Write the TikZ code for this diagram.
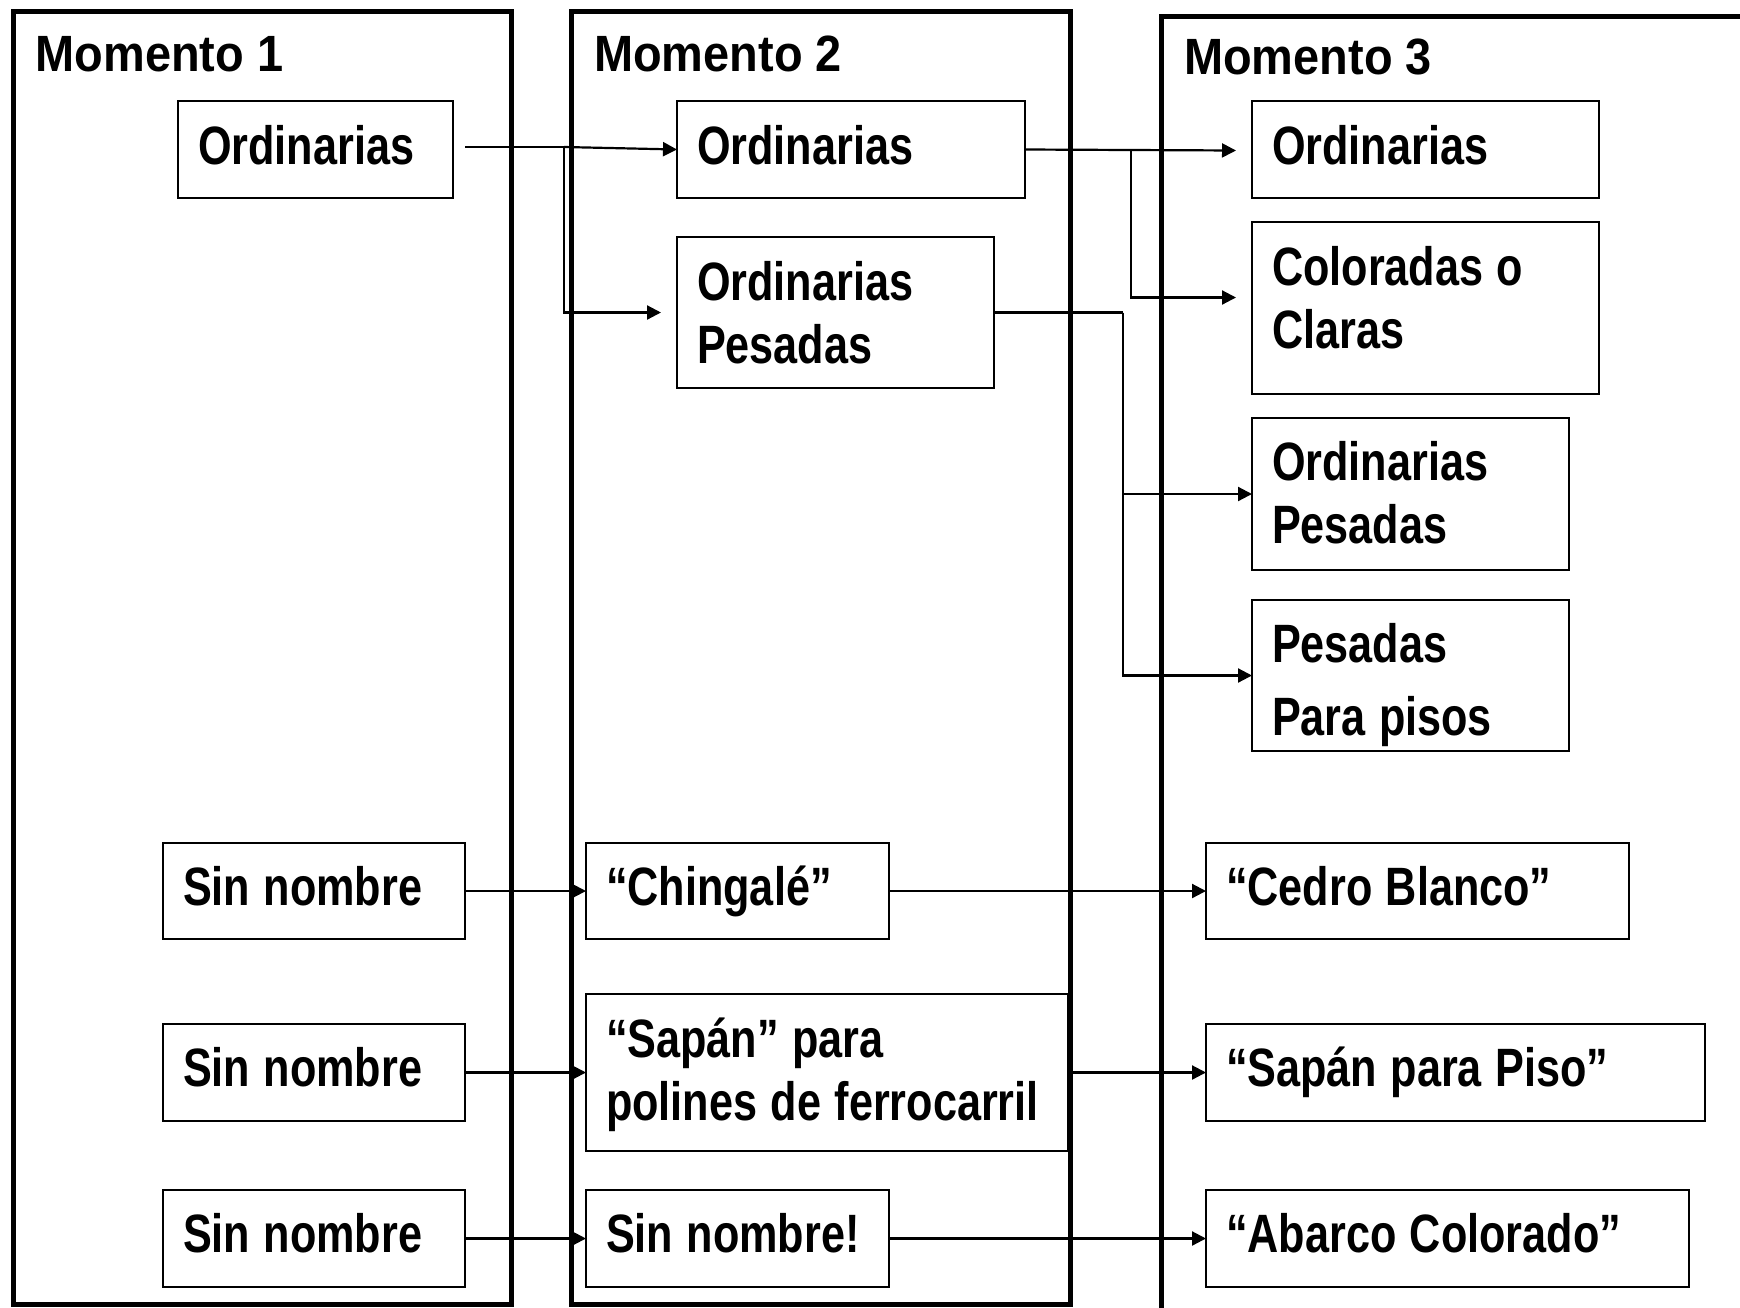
\documentclass[tikz,border=0pt]{standalone}
\usepackage{fontspec}
\setmainfont{Liberation Sans}
\newfontfamily\boxfont{Liberation Sans}[FakeStretch=0.80]
\newfontfamily\titlefont{Liberation Sans}[FakeStretch=0.92]
\usetikzlibrary{arrows.meta,calc}
\begin{document}
\begin{tikzpicture}[x=1pt,y=-1pt,
  panel/.style={draw=black, line width=5pt},
  bx/.style={draw=black, line width=2.2pt, anchor=north west, inner xsep=20pt, inner ysep=0pt, outer sep=0pt,
    align=left, font=\boxfont\bfseries\fontsize{54}{63.5}\selectfont,
    execute at begin node={\spaceskip=13.5pt\relax}},
  ttl/.style={anchor=base west, inner sep=0pt, font=\titlefont\bfseries\fontsize{51}{60}\selectfont},
  conn/.style={draw=black, line width=2.2pt},
  arr/.style={conn, -{Triangle[length=14pt,width=14pt]}}
]
\useasboundingbox (0,0) rectangle (1740,1307);
\clip (0,0) rectangle (1740,1307);

% panels
\draw[panel] (13,11) rectangle (511,1304);
\draw[panel] (571.5,11) rectangle (1070,1304);
\draw[panel] (1161,1320) -- (1161,16) -- (1760,16);

% titles
\node[ttl] (m1) at (35.5,71) {Momento 1};
\node[ttl] (m2) at (594,71) {Momento 2};
\node[ttl] (m3) at (1184,74.5) {Momento 3};

% column 1
\node[bx, text width=235pt, text height=63pt, text depth=34pt] (ord1) at (178,101) {Ordinarias};
\node[bx, text width=262pt, text height=62pt, text depth=34pt] (sin1) at (163,843) {Sin nombre};
\node[bx, text width=262pt, text height=62pt, text depth=35pt] (sin2) at (163,1024) {Sin nombre};
\node[bx, text width=262pt, text height=62pt, text depth=35pt] (sin3) at (163,1190) {Sin nombre};

% column 2
\node[bx, text width=308pt, text height=63pt, text depth=34pt] (ord2) at (677,101) {Ordinarias};
\node[bx, text width=277pt, text height=63pt, text depth=88pt] (ordp2) at (677,237) {Ordinarias\\Pesadas};
\node[bx, text width=263pt, text height=62pt, text depth=34pt] (ching) at (586,843) {“Chingalé”};
\node[bx, text width=442pt, text height=63pt, text depth=94pt] (sapan) at (586,994) {“Sapán” para\\polines de ferrocarril};
\node[bx, text width=263pt, text height=62pt, text depth=35pt] (sinnom) at (586,1190) {Sin nombre!};

% column 3
\node[bx, text width=307pt, text height=63pt, text depth=34pt] (ord3) at (1252,101) {Ordinarias};
\node[bx, text width=307pt, text height=63pt, text depth=109pt] (color) at (1252,222) {Coloradas o\\Claras};
\node[bx, text width=277pt, text height=62pt, text depth=90pt] (ordp3) at (1252,418) {Ordinarias\\Pesadas};
\node[bx, text width=277pt, text height=62pt, text depth=89pt] (pesp) at (1252,600) {Pesadas\\[10pt]Para pisos};
\node[bx, text width=383pt, text height=62pt, text depth=34pt] (cedro) at (1206,843) {“Cedro Blanco”};
\node[bx, text width=459pt, text height=62pt, text depth=35pt] (sappiso) at (1206,1024) {“Sapán para Piso”};
\node[bx, text width=443pt, text height=62pt, text depth=35pt] (abarco) at (1206,1190) {“Abarco Colorado”};

% connectors: Ordinarias (1) -> Ordinarias (2), Ordinarias Pesadas (2)
\coordinate (s1) at (465,147);
\coordinate (j1) at (564,147);
\coordinate (t2) at (661,312.5);
\draw[conn] (s1) -- (j1);
\draw[arr] (j1) -- (ord2.west);
\draw[arr] (j1) |- (t2);

% Ordinarias (2) -> Ordinarias (3), Coloradas o Claras
\coordinate (t3) at (1236,150.5);
\coordinate (j2) at (1131,149.5);
\coordinate (t4) at (1236,297.5);
\draw[arr] (ord2.east) -- (t3);
\draw[arr] (j2) |- (t4);

% Ordinarias Pesadas (2) -> Ordinarias Pesadas (3), Pesadas Para pisos
\coordinate (j3) at (1123,312.5);
\draw[conn] (ordp2.east) -- (j3);
\draw[arr] (j3) |- (ordp3.west);
\draw[arr] (j3) |- (pesp.west);

% lower rows
\draw[arr] (sin1.east) -- (ching.west);
\draw[arr] (ching.east) -- (cedro.west);
\draw[arr] (sin2.east) -- (sapan.west);
\draw[arr] (sapan.east) -- (sappiso.west);
\draw[arr] (sin3.east) -- (sinnom.west);
\draw[arr] (sinnom.east) -- (abarco.west);
\end{tikzpicture}
\end{document}
